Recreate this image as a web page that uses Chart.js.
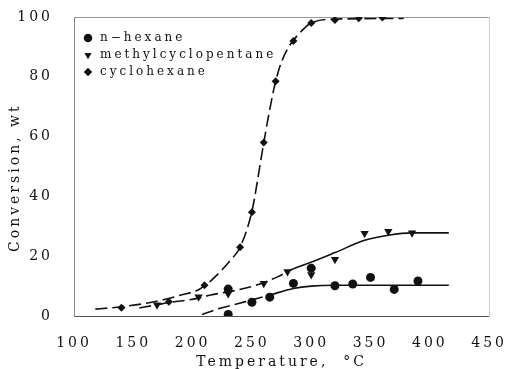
<!DOCTYPE html>
<html>
<head>
<meta charset="utf-8">
<script src="https://cdn.jsdelivr.net/npm/chart.js@4.4.1/dist/chart.umd.min.js"></script>
<style>
  html, body { margin: 0; padding: 0; background: #fff; }
  #wrap { width: 518px; height: 369px; }
</style>
</head>
<body>
<div id="wrap"><canvas id="conv-chart"></canvas></div>
<script>
"use strict";

// measured points, temperature (C) vs conversion (wt %)
const hexaneTemp = [230, 230, 250, 265, 285, 300, 320, 335, 350, 370, 390];
const hexaneConv = [0.5, 9, 4.6, 6.3, 10.9, 16, 10.1, 10.7, 12.9, 8.9, 11.7];

const mcpTemp = [170, 205, 230, 260, 280, 300, 320, 345, 365, 385];
const mcpConv = [3.7, 6.4, 7.5, 10.9, 14.8, 13.8, 18.9, 27.6, 28.3, 27.8];

const cyclohexTemp = [140, 180, 210, 240, 250, 260, 270, 285, 300, 320, 340, 360];
const cyclohexConv = [2.8, 4.8, 10.3, 23, 34.7, 58, 78.5, 92, 98, 99, 99.6, 99.8];

// fitted curves
const hexaneFitTemp = [208, 220, 238, 250, 265, 285, 300, 320, 350, 416];
const hexaneFitConv = [0.5, 2.2, 4.1, 5.4, 7.0, 9.2, 10.0, 10.3, 10.3, 10.3];

const mcpFitTemp = [155, 168, 180, 203, 215, 238, 256, 271, 285, 300, 320, 345, 365, 385, 416];
const mcpFitConv = [2.7, 3.6, 4.5, 5.8, 7.0, 8.7, 10.6, 13.0, 15.8, 18.0, 21.2, 25.3, 27.0, 27.8, 27.8];

const cyclohexFitTemp = [118, 130, 140, 160, 177, 190, 205, 216, 232, 240, 250, 255, 260, 265, 270, 275, 281, 290, 300, 320, 378];
const cyclohexFitConv = [2.3, 2.7, 3.1, 4.2, 5.6, 7.0, 8.8, 12, 18.7, 23, 35, 46, 58, 69, 78.5, 85, 90, 94.5, 98, 99.3, 99.5];

const seriesNames = ['n\u2212hexane', 'methylcyclopentane', 'cyclohexane'];

const toXY = (xs, ys) => xs.map((x, i) => ({x: x, y: ys[i]}));

const FONT = 'DejaVu Serif';
const INK = '#111';

// canvas letter spacing, the scanned text is very wide
const spacing = {
  id: 'spacing',
  beforeLayout(chart) { chart.ctx.letterSpacing = '3px'; },
  beforeDraw(chart) { chart.ctx.letterSpacing = '3px'; }
};

// nudge the legend into the upper left corner of the plot
const legendSpot = {
  id: 'legendSpot',
  afterLayout(chart) {
    chart.legend.left = chart.chartArea.left + 3;
    chart.legend.top = chart.chartArea.top + 10;
  }
};

const fitLine = (xs, ys, dashUntil) => ({
  type: 'line',
  data: toXY(xs, ys),
  borderColor: INK,
  borderWidth: 1.6,
  pointRadius: 0,
  fill: false,
  cubicInterpolationMode: 'monotone',
  segment: {
    borderDash: (ctx) => ctx.p0.parsed.x < dashUntil ? [12, 5] : undefined
  }
});

new Chart(document.getElementById('conv-chart'), {
  type: 'scatter',
  data: {
    datasets: [
      {
        label: seriesNames[0],
        data: toXY(hexaneTemp, hexaneConv),
        pointStyle: 'circle',
        pointRadius: 4.5,
        backgroundColor: INK,
        borderColor: INK,
        borderWidth: 0
      },
      {
        label: seriesNames[1],
        data: toXY(mcpTemp, mcpConv),
        pointStyle: 'triangle',
        pointRotation: 180,
        pointRadius: 4.8,
        backgroundColor: INK,
        borderColor: INK,
        borderWidth: 0
      },
      {
        label: seriesNames[2],
        data: toXY(cyclohexTemp, cyclohexConv),
        pointStyle: 'rectRot',
        pointRadius: 4,
        backgroundColor: INK,
        borderColor: INK,
        borderWidth: 0
      },
      fitLine(hexaneFitTemp, hexaneFitConv, 265),
      fitLine(mcpFitTemp, mcpFitConv, 285),
      fitLine(cyclohexFitTemp, cyclohexFitConv, 500)
    ]
  },
  options: {
    responsive: true,
    maintainAspectRatio: false,
    animation: false,
    layout: { padding: { top: 17, right: 23, bottom: 0, left: 0 } },
    plugins: {
      tooltip: { enabled: false },
      legend: {
        position: 'chartArea',
        align: 'start',
        labels: {
          filter: (item) => item.datasetIndex < 3,
          usePointStyle: true,
          boxWidth: 12,
          boxHeight: 6,
          padding: 5,
          color: INK,
          font: { family: FONT, size: 12 }
        }
      }
    },
    scales: {
      x: {
        type: 'linear',
        min: 100,
        max: 450,
        ticks: { stepSize: 50, padding: 11, color: INK, font: { family: FONT, size: 14 } },
        grid: { display: false },
        border: { display: true, color: '#555', width: 1, dash: [1, 3] },
        title: {
          display: true,
          text: 'Temperature,  \u00B0C',
          color: INK,
          font: { family: FONT, size: 14 },
          padding: { top: 0, bottom: -2 }
        },
        afterFit: (s) => { s.height = 53; }
      },
      y: {
        min: 0,
        max: 100,
        ticks: { stepSize: 20, padding: 13, color: INK, font: { family: FONT, size: 14 } },
        grid: { display: false },
        border: { display: true, color: '#888', width: 1, dash: [3, 2] },
        title: {
          display: true,
          text: 'Conversion, wt   ',
          color: INK,
          font: { family: FONT, size: 14 },
          padding: { top: 7, bottom: 0 }
        },
        afterFit: (s) => {
          s.width = 74;
          s.paddingTop = 0;
          s.paddingBottom = 0;
        }
      },
      xTop: {
        type: 'linear',
        position: 'top',
        min: 100,
        max: 450,
        ticks: { display: false },
        grid: { display: false, drawTicks: false },
        border: { display: true, color: '#999', width: 1, dash: [1, 4] },
        afterFit: (s) => { s.height = 0; }
      },
      yRight: {
        type: 'linear',
        position: 'right',
        min: 0,
        max: 100,
        ticks: { display: false },
        grid: { display: false, drawTicks: false },
        border: { display: true, color: '#ccc', width: 1, dash: [1, 5] },
        afterFit: (s) => { s.width = 0; }
      }
    }
  },
  plugins: [spacing, legendSpot]
});
</script>
</body>
</html>
